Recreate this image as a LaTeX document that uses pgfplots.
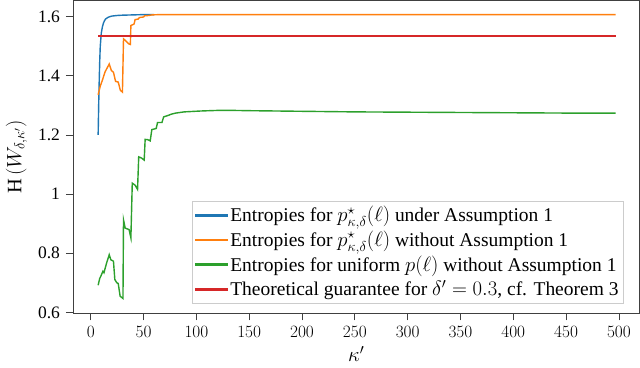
\documentclass[border=0pt]{standalone}
\usepackage{pgfplots}
\pgfplotsset{compat=1.18}
\usepackage{fontspec}
\setmainfont{Liberation Serif}
\definecolor{tabblue}{HTML}{1F77B4}
\definecolor{taborange}{HTML}{FF7F0E}
\definecolor{tabgreen}{HTML}{2CA02C}
\definecolor{tabred}{HTML}{D62728}
% legend sample as a thin filled bar
\pgfplotsset{leg/.style={legend image code/.code={%
  \fill[#1] (0bp,-0.65bp) rectangle (32bp,0.65bp);}}}
\begin{document}
\fontsize{17.5}{21}\selectfont
\begin{tikzpicture}
\begin{axis}[
    scale only axis,
    width=565bp,
    height=312bp,
    xmin=-16.8, xmax=519.6,
    ymin=0.597, ymax=1.655,
    xtick={0,50,...,500},
    ytick={0.6,0.8,1,1.2,1.4,1.6},
    yticklabels={0.6,0.8,1,1.2,1.4,1.6},
    tick align=outside,
    tick pos=left,
    major tick length=7bp,
    axis line style={black!75, line width=0.8bp},
    tick style={black!75, line width=0.8bp},
    xlabel={$\kappa'$},
    ylabel={$\mathrm{H}\left(W_{\delta,\kappa'}\right)$},
    label style={font=\fontsize{20.5}{24}\selectfont},
    xlabel style={yshift=3bp},
    ylabel style={yshift=-1bp},
    legend cell align=left,
    legend style={at={(0.972,0.031)}, anchor=south east, draw=black!20,
      fill=white, inner sep=3bp, row sep=2.5bp, font=\fontsize{19.5}{23}\selectfont},
    every axis plot/.append style={line width=1.4bp},
]
\addplot[tabblue, leg=tabblue] coordinates {
(7,1.20) (7.5,1.30) (8,1.38) (8.5,1.45) (9,1.50) (10,1.545) (11,1.565) (12,1.578)
(13,1.586) (14,1.592) (16,1.597) (18,1.600) (20,1.602) (25,1.604) (30,1.605)
(40,1.606) (50,1.607) (60,1.607)
};
\addlegendentry{Entropies for $p^{\star}_{\kappa,\delta}(\ell)$ under Assumption 1}

\addplot[taborange, leg=taborange] coordinates {
(7,1.336) (9,1.365) (11,1.385) (13.5,1.413) (17.5,1.440) (19.5,1.418) (21.5,1.412)
(23.5,1.381) (26,1.379) (28,1.351) (30,1.345) (31,1.525) (33,1.519) (36,1.508)
(37.5,1.506) (38,1.570) (41,1.575) (42,1.590) (45,1.592) (46,1.597) (50,1.599)
(51,1.603) (55,1.604) (58,1.606) (65,1.607) (100,1.607) (200,1.607) (300,1.607)
(400,1.607) (497,1.607)
};
\addlegendentry{Entropies for $p^{\star}_{\kappa,\delta}(\ell)$ without Assumption 1}

\addplot[tabgreen, leg=tabgreen] coordinates {
(7,0.692) (8.5,0.715) (9.5,0.722) (11.5,0.739) (12.5,0.734) (15,0.767) (17.5,0.795)
(19,0.778) (21.5,0.773) (22.8,0.711) (24.7,0.700) (26,0.698) (27.8,0.655)
(30.5,0.647) (31,0.913) (32.6,0.885) (36.3,0.880) (38,0.852) (39.3,1.037)
(42,1.030) (44.3,1.016) (45.4,1.126) (48,1.122) (50.6,1.115) (51.5,1.185)
(54,1.184) (56.3,1.180) (57.8,1.218) (60,1.220) (62,1.222) (63.2,1.242)
(67.4,1.242) (69,1.261) (74,1.267) (76,1.270) (80.5,1.274) (88.5,1.278)
(104,1.281) (120,1.283) (135,1.283) (152,1.282) (200,1.280) (250,1.278)
(300,1.277) (350,1.276) (400,1.275) (450,1.274) (497,1.274)
};
\addlegendentry{Entropies for uniform $p(\ell)$ without Assumption 1}

\addplot[tabred, leg=tabred] coordinates {(7,1.535) (497,1.535)};
\addlegendentry{Theoretical guarantee for $\delta'=0.3$, cf. Theorem 3}
\end{axis}
\end{tikzpicture}
\end{document}
